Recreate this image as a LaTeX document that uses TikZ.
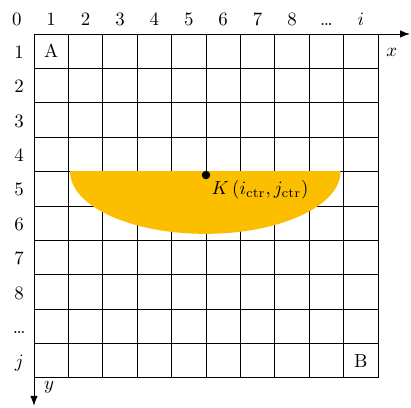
\documentclass[tikz,border=0pt]{standalone}
\usetikzlibrary{arrows.meta}
\definecolor{blobfill}{RGB}{251,191,0}

\begin{document}
\begin{tikzpicture}[x=0.64cm, y=-0.64cm, >=Latex, line width=0.5pt]
        % --- SETTINGS ---
        \def\N{10}         % Cells per side
        \def\Ic{4.98}      % Centre of the blob (column)
        \def\Jc{4}         % Top edge of the blob (row line)
        \def\Rx{3.93}      % Half width of the blob
        \def\Ry{1.81}      % Depth of the blob
        \useasboundingbox (-0.988,-0.988) rectangle (10.96,10.87);
        
        % --- GRID ---
        \foreach \k in {0,...,\N} {
            \draw (\k,0) -- (\k,\N);
            \draw (0,\k) -- (\N,\k);
        }
        
        % --- HALF ELLIPSE BELOW THE ROW LINE ---
        \begin{scope}
            \clip (0,\Jc) rectangle (\N,\N);
            \fill[blobfill] (\Ic,\Jc) ellipse [x radius=\Rx, y radius=\Ry];
        \end{scope}
        
        % --- AXES ---
        \coordinate (O) at (0,0);
        \coordinate (xend) at (10.93,0);
        \coordinate (yend) at (0,10.81);
        \draw[->] (O) -- (xend);
        \draw[->] (O) -- (yend);
        \node (xlab) at (10.4,0.55) {$x$};
        \node (ylab) at (0.44,10.26) {$y$};
        
        % --- INDEX LABELS ---
        \foreach \lab [count=\k from 0] in {0,1,2,3,4,5,6,7,8,\dots,$i$}
            \node[anchor=base] (top\k) at (\k-0.5,-0.26) {\lab};
        \foreach \lab [count=\k from 1] in {1,2,3,4,5,6,7,8,\dots,$j$}
            \node[anchor=base] (left\k) at (-0.43,\k-0.29) {\lab};
        
        % --- CORNER CELLS ---
        \node (A) at (0.5,0.5) {A};
        \node (B) at (9.5,9.5) {B};
        
        % --- CENTRE POINT K ---
        \node[circle, fill, inner sep=0pt, minimum size=4.5pt] (K) at (5.0,4.1) {};
        \node[anchor=north west, inner sep=1pt] (Klab) at (K.south east) {$K\,(i_{\mathrm{ctr}}, j_{\mathrm{ctr}})$};
    \end{tikzpicture}
\end{document}
